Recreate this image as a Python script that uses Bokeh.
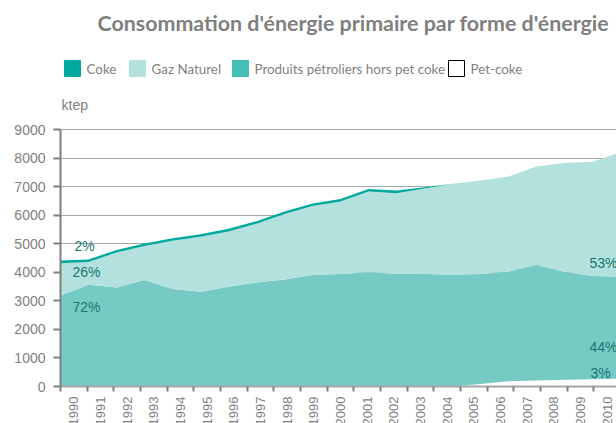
import math
from bokeh.plotting import figure
from bokeh.models import ColumnDataSource, Range1d, FixedTicker, Label
from bokeh.core.properties import value
from bokeh.embed import file_html
from bokeh.resources import INLINE

# ---------------- data (ktep) ----------------
years = list(range(1990, 2011))
petcoke = [0, 0, 0, 0, 0, 0, 0, 0, 0, 0, 0, 0, 0, 0, 0, 90, 180, 210, 235, 255, 270]
petrole = [3190, 3565, 3470, 3730, 3415, 3320, 3495, 3645, 3750, 3905, 3940,
           4000, 3950, 3940, 3915, 3850, 3850, 4055, 3785, 3615, 3575]
gaz = [1130, 795, 1220, 1190, 1685, 1920, 1935, 2055, 2290, 2415, 2540,
       2830, 2820, 2995, 3185, 3270, 3320, 3435, 3810, 4000, 4355]
coke = [90, 90, 90, 90, 90, 90, 90, 90, 90, 90, 90, 90, 90, 45, 0, 0, 0, 0, 0, 0, 0]
series_names = ["Coke", "Gaz Naturel", "Produits pétroliers hors pet coke", "Pet-coke"]
y_ticks = [0, 1000, 2000, 3000, 4000, 5000, 6000, 7000, 8000, 9000]
title_text = "Consommation d'énergie primaire par forme d'énergie"
unit_text = "ktep"

c_coke = "#00A99D"
c_gaz = "#B3E1DD"
c_petrole_area = "#76CAC4"
c_petrole_leg = "#43BFB7"
grey = "#7F7F7F"

# ---------------- geometry ----------------
BL = 60                    # left border (y axis)
FW, FH = 556, 386          # frame covers header too; chart part spans y 129..386
y_top_px, y_bot_px = 129, 386
cat_px = 560 / 21.0        # width of one category in px
x0 = years[0] - 0.5
x1 = x0 + FW / cat_px
ymax = 9000 * FH / (y_bot_px - y_top_px)
n = len(years)
# area points are spread edge to edge over the category axis (Excel style)
xpos = [x0 + i * n / (n - 1) for i in range(n)]

def px2x(px):
    return x0 + (px - BL) / cat_px

def py2y(py):
    return (FH - py) * ymax / FH

src = ColumnDataSource(dict(x=xpos, petcoke=petcoke, petrole=petrole, gaz=gaz, coke=coke))

p = figure(frame_width=FW, frame_height=FH, x_range=Range1d(x0, x1), y_range=Range1d(0, ymax),
           output_backend="svg", toolbar_location=None,
           min_border_left=BL, min_border_right=0, min_border_top=0, min_border_bottom=0)
p.outline_line_color = None

p.varea_stack(stackers=["petcoke", "petrole", "gaz", "coke"], x="x",
              color=["white", c_petrole_area, c_gaz, c_coke], source=src)

p.xgrid.visible = False
p.ygrid.ticker = FixedTicker(ticks=y_ticks)
p.ygrid.grid_line_color = "#A6A6A6"
p.ygrid.grid_line_width = 1.2

p.yaxis.bounds = (0, 9000)
p.yaxis.ticker = FixedTicker(ticks=y_ticks, minor_ticks=[])
p.yaxis.major_tick_out = 7
p.yaxis.major_tick_in = 0
p.yaxis.major_tick_line_color = grey
p.yaxis.major_tick_line_width = 2
p.yaxis.axis_line_color = grey
p.yaxis.axis_line_width = 2
p.yaxis.major_label_standoff = 8
p.yaxis.major_label_text_font = "Liberation Sans"
p.yaxis.major_label_text_font_size = "14px"
p.yaxis.major_label_text_color = grey

p.xaxis.ticker = FixedTicker(ticks=years, minor_ticks=[y - 0.5 for y in years] + [years[-1] + 0.5])
p.xaxis.major_label_overrides = {y: str(y) for y in years}
p.xaxis.major_tick_out = 0
p.xaxis.major_tick_in = 0
p.xaxis.minor_tick_out = 5
p.xaxis.minor_tick_in = 0
p.xaxis.minor_tick_line_color = grey
p.xaxis.minor_tick_line_width = 2
p.xaxis.axis_line_color = "#A6A6A6"
p.xaxis.axis_line_width = 2
p.xaxis.major_label_orientation = math.pi / 2
p.xaxis.major_label_standoff = 5
p.xaxis.major_label_text_font = "Liberation Sans"
p.xaxis.major_label_text_font_size = "13px"
p.xaxis.major_label_text_color = grey

# percentage data labels (first and last year)
pct_color = "#17766E"
tot0 = coke[0] + gaz[0] + petrole[0] + petcoke[0]
totN = coke[-1] + gaz[-1] + petrole[-1] + petcoke[-1]
pct_labels = [
    (f"{round(100*coke[0]/tot0)}%", 74, 245),
    (f"{round(100*gaz[0]/tot0)}%", 72, 271),
    (f"{round(100*petrole[0]/tot0)}%", 72, 306),
    (f"{round(100*gaz[-1]/totN)}%", 589, 262),
    (f"{round(100*petrole[-1]/totN)}%", 589, 346),
    (f"{round(100*petcoke[-1]/totN)}%", 590, 372),
]
for t, lx, ly in pct_labels:
    p.add_layout(Label(x=px2x(lx), y=py2y(ly), text=t, text_align="left", text_baseline="middle",
                       text_font="Liberation Sans", text_font_size="14px", text_color=pct_color))

# ---------------- header inside the frame ----------------
p.text(x=[px2x(97)], y=[py2y(22)], text=[title_text], text_align="left", text_baseline="middle",
       text_font=value("Lato"), text_font_style="bold", text_font_size="21.4px", text_color=grey)

leg_fill = [c_coke, c_gaz, c_petrole_leg, "white"]
leg_line = [c_coke, c_gaz, c_petrole_leg, "black"]
leg_px = [64, 129, 232, 448]
leg_src = ColumnDataSource(dict(
    left=[px2x(v) for v in leg_px], right=[px2x(v + 16) for v in leg_px],
    top=[py2y(60)] * 4, bottom=[py2y(76)] * 4,
    fill=leg_fill, line=leg_line, tx=[px2x(v + 22) for v in leg_px],
    ty=[py2y(68)] * 4, label=series_names))
p.quad(left="left", right="right", top="top", bottom="bottom", fill_color="fill", line_color="line",
       line_width=1, source=leg_src)
p.text(x="tx", y="ty", text="label", text_align="left", text_baseline="middle",
       text_font=value("Lato"), text_font_size="13.4px", text_color=grey, source=leg_src)

p.text(x=[px2x(61)], y=[py2y(104)], text=[unit_text], text_align="left", text_baseline="middle",
       text_font=value("Liberation Sans"), text_font_size="14px", text_color=grey)

open("out.html", "w").write(file_html(p, INLINE))
